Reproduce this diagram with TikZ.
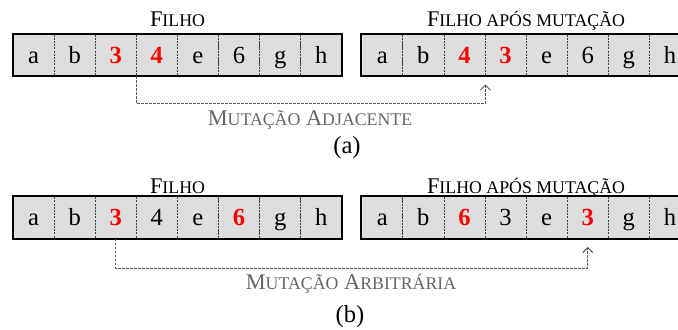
\documentclass[tikz,border=0pt]{standalone}
\usepackage{fontspec}
\setmainfont{Liberation Serif}
\usetikzlibrary{arrows.meta}
\newcommand\fsc[1]{{\fontsize{8.9}{10}\selectfont #1}}
\newcommand\hl[1]{\textcolor{red}{\bfseries #1}}
\tikzset{
 cell/.style={draw=black!75, dash pattern=on 1pt off 0.6pt, line width=0.4pt, fill=black!13,
   minimum width=20.55pt, minimum height=21pt, inner sep=0pt,
   text height=9pt, text depth=0.7pt,
   font=\fontsize{12.3}{14}\selectfont},
 frame/.style={line width=1pt},
 conn/.style={dash pattern=on 1.2pt off 0.8pt, line width=0.5pt, black!65,
   -{Straight Barb[length=2.5pt,width=5pt]}},
 title/.style={anchor=base, font=\fontsize{11.2}{13}\selectfont},
 lab/.style={anchor=base, text=black!60, font=\fontsize{11.2}{13}\selectfont},
 caption/.style={anchor=base, font=\fontsize{12.3}{14}\selectfont},
}
\begin{document}
\begin{tikzpicture}[x=0.5pt,y=-0.5pt]
 \useasboundingbox (0,0) rectangle (678,329);
 \clip (0,0) rectangle (678,329);
 % (a) mutacao adjacente
 \foreach \t [count=\i] in {a,b,\hl{3},\hl{4},e,6,g,h}
   \node[cell] (fa\i) at ({13+41.1*(\i-0.5)},55) {\t};
 \foreach \t [count=\i] in {a,b,\hl{4},\hl{3},e,6,g,h}
   \node[cell] (ma\i) at ({361.7+41.1*(\i-0.5)},55) {\t};
 \draw[frame] (fa1.north west) rectangle (fa8.south east);
 \draw[frame] (ma1.north west) rectangle (ma8.south east);
 \node[title] (tfa) at (177.5,26) {F\fsc{ILHO}};
 \node[title] (tma) at (526,26) {F\fsc{ILHO APÓS MUTAÇÃO}};
 \coordinate (enda) at ([yshift=-4pt]ma3.south east);
 \draw[conn] (fa3.south east) -- ++(0,27.3) -| (enda);
 \node[lab] (la) at (310,125) {M\fsc{UTAÇÃO} A\fsc{DJACENTE}};
 \node[caption] (ca) at (347,153.7) {(a)};
 % (b) mutacao arbitraria
 \foreach \t [count=\i] in {a,b,\hl{3},4,e,\hl{6},g,h}
   \node[cell] (fb\i) at ({13+41.1*(\i-0.5)},217.5) {\t};
 \foreach \t [count=\i] in {a,b,\hl{6},3,e,\hl{3},g,h}
   \node[cell] (mb\i) at ({361.7+41.1*(\i-0.5)},217.5) {\t};
 \draw[frame] (fb1.north west) rectangle (fb8.south east);
 \draw[frame] (mb1.north west) rectangle (mb8.south east);
 \node[title] (tfb) at (177.5,193.3) {F\fsc{ILHO}};
 \node[title] (tmb) at (526,193.3) {F\fsc{ILHO APÓS MUTAÇÃO}};
 \coordinate (endb) at ([yshift=-4pt]mb6.south);
 \draw[conn] (fb3.south) -- ++(0,29.4) -| (endb);
 \node[lab] (lb) at (351,289.3) {M\fsc{UTAÇÃO} A\fsc{RBITRÁRIA}};
 \node[caption] (cb) at (350,322.4) {(b)};
\end{tikzpicture}
\end{document}
